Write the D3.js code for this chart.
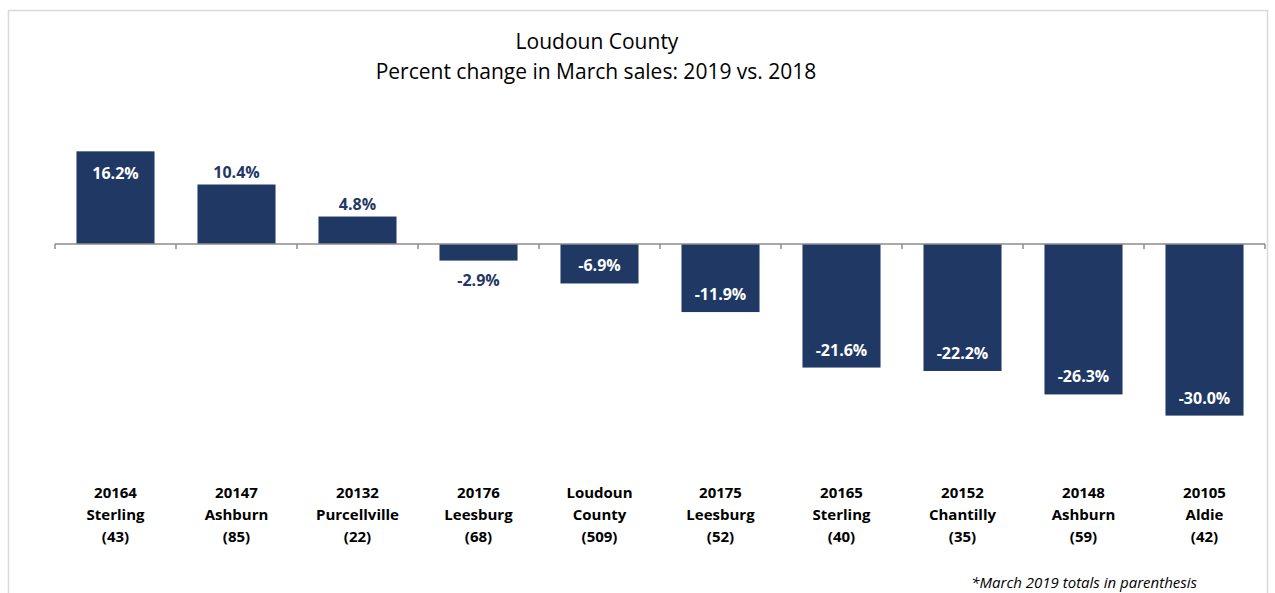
<!DOCTYPE html>
<html>
<head>
<meta charset="utf-8">
<script src="https://cdn.jsdelivr.net/npm/d3@7"></script>
<style>
  body { margin: 0; background: #fff; }
  text { font-family: "Open Sans", sans-serif; }
</style>
</head>
<body>
<div id="chart"></div>
<script>
"use strict";

var zips = ["20164", "20147", "20132", "20176", "Loudoun", "20175", "20165", "20152", "20148", "20105"];
var places = ["Sterling", "Ashburn", "Purcellville", "Leesburg", "County", "Leesburg", "Sterling", "Chantilly", "Ashburn", "Aldie"];
var counts = [43, 85, 22, 68, 509, 52, 40, 35, 59, 42];
var changes = [16.2, 10.4, 4.8, -2.9, -6.9, -11.9, -21.6, -22.2, -26.3, -30.0];

var w = 1275, h = 593;
var navy = "#1f3864";

var svg = d3.select("#chart")
    .append("svg")
    .attr("width", w)
    .attr("height", h);

// chart frame
svg.append("rect")
    .attr("x", 8.5)
    .attr("y", 10.5)
    .attr("width", 1259)
    .attr("height", 600)
    .attr("fill", "white")
    .attr("stroke", "#d9d9d9")
    .attr("stroke-width", 1.5);

svg.append("text")
    .attr("x", 597)
    .attr("y", 49)
    .attr("text-anchor", "middle")
    .style("font-size", "21px")
    .attr("fill", "#000")
    .text("Loudoun County");

svg.append("text")
    .attr("x", 596)
    .attr("y", 79)
    .attr("text-anchor", "middle")
    .style("font-size", "21px")
    .attr("fill", "#000")
    .text("Percent change in March sales: 2019 vs. 2018");

var idx = d3.range(changes.length);

var x = d3.scaleBand()
    .domain(idx)
    .range([55, 1265])
    .paddingInner(0.355)
    .paddingOuter(0.1775);

var y = d3.scaleLinear()
    .domain([-35, 20])
    .range([444.2, 129.6]);

function barH(v){ return Math.abs(y(v) - y(0)); }
// Excel put the short bars' labels outside, the rest inside
function inside(v){ return v >= 0 ? barH(v) > 70 : barH(v) > 30; }

svg.selectAll("rect.bar")
    .data(idx)
    .enter()
    .append("rect")
    .attr("class", "bar")
    .attr("x", function(i){ return x(i); })
    .attr("width", x.bandwidth())
    .attr("y", function(i){ return y(Math.max(0, changes[i])); })
    .attr("height", function(i){ return barH(changes[i]); })
    .attr("fill", navy);

// zero axis line with ticks between categories
var step = x.step();
svg.append("line")
    .attr("x1", 55)
    .attr("x2", 1265)
    .attr("y1", y(0))
    .attr("y2", y(0))
    .attr("stroke", "#8c8c8c")
    .attr("stroke-width", 1.5);

svg.selectAll("line.tick")
    .data(d3.range(changes.length + 1))
    .enter()
    .append("line")
    .attr("class", "tick")
    .attr("x1", function(i){ return 55 + i * step; })
    .attr("x2", function(i){ return 55 + i * step; })
    .attr("y1", y(0))
    .attr("y2", y(0) + 5)
    .attr("stroke", "#8c8c8c")
    .attr("stroke-width", 1.5);

svg.selectAll("text.val")
    .data(idx)
    .enter()
    .append("text")
    .attr("class", "val")
    .attr("x", function(i){ return x(i) + x.bandwidth() / 2; })
    .attr("y", function(i){
        var v = changes[i];
        if (v >= 0) return inside(v) ? y(v) + 28 : y(v) - 7;
        return inside(v) ? y(v) - 12 : y(v) + 25;
    })
    .attr("text-anchor", "middle")
    .style("font-size", "16px")
    .style("font-weight", "700")
    .attr("fill", function(i){ return inside(changes[i]) ? "#fff" : navy; })
    .text(function(i){ return changes[i].toFixed(1) + "%"; });

// category labels
var cats = svg.selectAll("g.cat")
    .data(idx)
    .enter()
    .append("g")
    .attr("class", "cat")
    .attr("transform", function(i){ return "translate(" + (x(i) + x.bandwidth() / 2) + ",0)"; });

cats.append("text")
    .attr("y", 498)
    .attr("text-anchor", "middle")
    .style("font-size", "15px")
    .style("font-weight", "700")
    .text(function(i){ return zips[i]; });

cats.append("text")
    .attr("y", 520)
    .attr("text-anchor", "middle")
    .style("font-size", "15px")
    .style("font-weight", "700")
    .text(function(i){ return places[i]; });

cats.append("text")
    .attr("y", 542)
    .attr("text-anchor", "middle")
    .style("font-size", "15px")
    .style("font-weight", "700")
    .text(function(i){ return "(" + counts[i] + ")"; });

svg.append("text")
    .attr("x", 1197)
    .attr("y", 588)
    .attr("text-anchor", "end")
    .style("font-size", "15px")
    .style("font-style", "italic")
    .attr("fill", "#000")
    .text("*March 2019 totals in parenthesis");
</script>
</body>
</html>
